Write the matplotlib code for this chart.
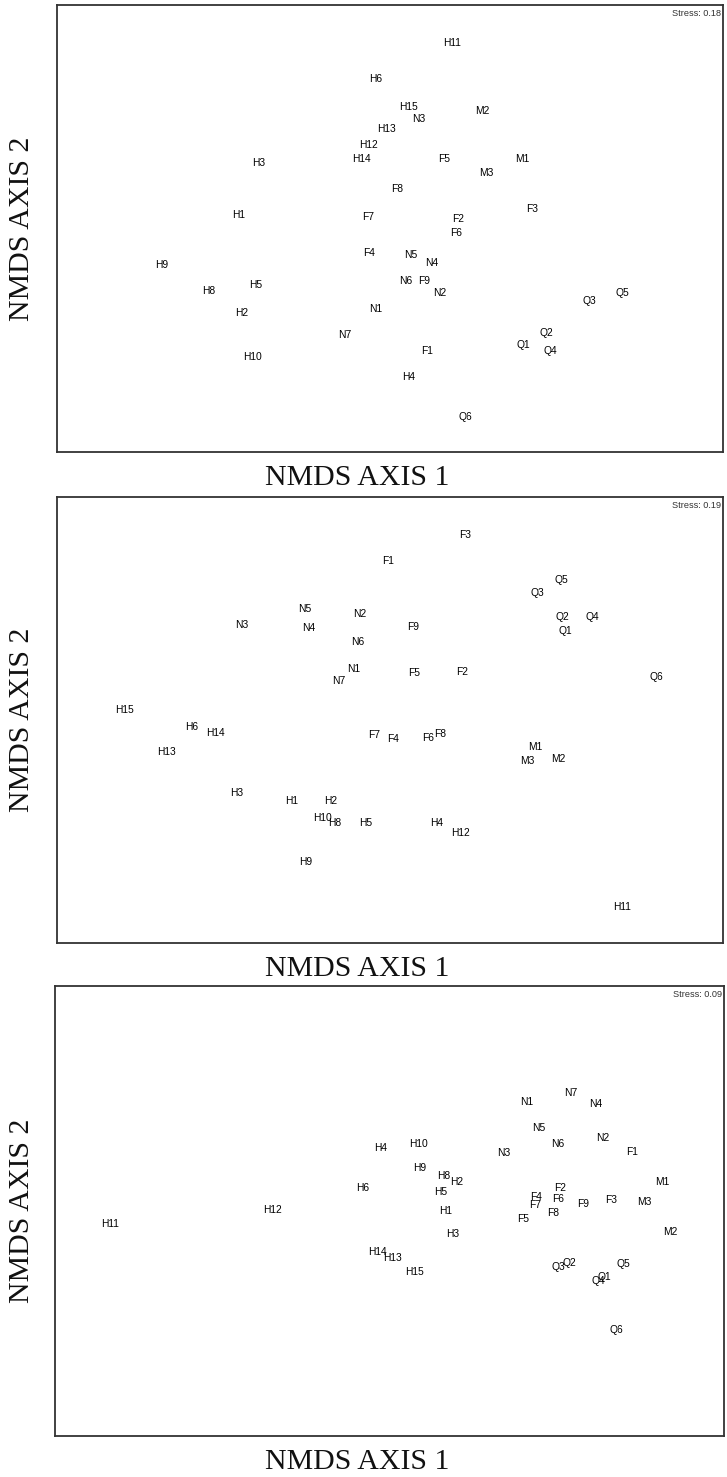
import matplotlib
matplotlib.use("Agg")
import matplotlib.pyplot as plt

# ---------------- Data (NMDS scores) ----------------
labels1 = ["H1", "H2", "H3", "H4", "H5", "H6", "H8", "H9", "H10", "H11", "H12", "H13", "H14", "H15",
           "N1", "N2", "N3", "N4", "N5", "N6", "N7",
           "F1", "F2", "F3", "F4", "F5", "F6", "F7", "F8", "F9",
           "M1", "M2", "M3",
           "Q1", "Q2", "Q3", "Q4", "Q5", "Q6"]
x1 = [-1.51, -1.48, -1.31, 0.19, -1.34, -0.14, -1.81, -2.28, -1.37, 0.62, -0.21, -0.03, -0.29, 0.19,
      -0.14, 0.50, 0.29, 0.42, 0.21, 0.16, -0.45,
      0.37, 0.68, 1.42, -0.21, 0.54, 0.66, -0.22, 0.07, 0.34,
      1.32, 0.92, 0.96,
      1.33, 1.56, 1.99, 1.60, 2.32, 0.75]
y1 = [0.13, -0.85, 0.66, -1.48, -0.57, 1.50, -0.62, -0.36, -1.29, 1.85, 0.83, 1.00, 0.70, 1.21,
      -0.81, -0.64, 1.10, -0.34, -0.27, -0.53, -1.06,
      -1.22, 0.10, 0.20, -0.24, 0.69, -0.04, 0.11, 0.40, -0.52,
      0.69, 1.18, 0.55,
      -1.16, -1.04, -0.73, -1.22, -0.64, -1.88]

labels2 = ["F1", "N5", "N2", "N3", "N4", "N6", "N1", "N7", "H15", "F3",
           "Q5", "Q3", "Q2", "Q4", "Q1", "F9", "F5", "F2", "Q6",
           "H6", "H14", "H13", "F7", "H3", "H1", "H2", "H10", "H8", "H5", "H9",
           "F4", "F6", "F8", "M1", "M3", "M2", "H4", "H12", "H11"]
x2 = [-0.02, -0.85, -0.30, -1.48, -0.81, -0.32, -0.36, -0.51, -2.65, 0.75,
      1.71, 1.47, 1.72, 2.02, 1.75, 0.23, 0.24, 0.72, 2.66,
      -1.98, -1.75, -2.23, -0.16, -1.53, -0.98, -0.59, -0.67, -0.55, -0.24, -0.84,
      0.03, 0.38, 0.50, 1.45, 1.37, 1.68, 0.47, 0.71, 2.32]
y2 = [1.59, 1.11, 1.06, 0.95, 0.92, 0.78, 0.51, 0.39, 0.10, 1.85,
      1.40, 1.27, 1.03, 1.03, 0.89, 0.93, 0.47, 0.48, 0.43,
      -0.07, -0.13, -0.32, -0.15, -0.73, -0.81, -0.81, -0.98, -1.03, -1.03, -1.42,
      -0.19, -0.18, -0.14, -0.27, -0.41, -0.39, -1.03, -1.13, -1.87]

labels3 = ["H4", "H6", "N1", "N7", "N4", "N5", "N6", "N2", "F1", "N3",
           "H10", "H9", "H8", "H2", "H5", "M1", "F2", "F4", "F6", "F9", "F3", "M3",
           "F7", "F8", "H1", "F5", "H3", "M2", "H13", "H14", "H15",
           "Q3", "Q2", "Q5", "Q1", "Q4", "Q6", "H11", "H12"]
x3 = [-0.09, -0.27, 1.37, 1.81, 2.06, 1.49, 1.68, 2.13, 2.42, 1.14,
      0.28, 0.30, 0.54, 0.67, 0.51, 2.72, 1.70, 1.46, 1.68, 1.93, 2.21, 2.54,
      1.45, 1.63, 0.56, 1.33, 0.63, 2.80, 0.03, -0.13, 0.25,
      1.68, 1.79, 2.33, 2.14, 2.08, 2.26, -2.80, -1.17]
y3 = [0.63, 0.23, 1.09, 1.18, 1.07, 0.83, 0.67, 0.73, 0.59, 0.58,
      0.67, 0.43, 0.35, 0.29, 0.19, 0.29, 0.23, 0.14, 0.12, 0.07, 0.11, 0.09,
      0.06, -0.02, 0.00, -0.08, -0.23, -0.21, -0.47, -0.41, -0.61,
      -0.56, -0.52, -0.53, -0.66, -0.70, -1.19, -0.13, 0.01]

stress = ["Stress: 0.18", "Stress: 0.19", "Stress: 0.09"]
xlabel = "NMDS AXIS 1"
ylabel = "NMDS AXIS 2"

# ---------------- Figure ----------------
W, H = 727, 1477
fig = plt.figure(figsize=(W / 100, H / 100), dpi=100)
fig.patch.set_facecolor("white")

panels = [
    (labels1, x1, y1, (57, 5, 723, 452), (-3.33, 3.33), (-2.235, 2.235)),
    (labels2, x2, y2, (57, 497, 723, 943), (-3.33, 3.33), (-2.23, 2.23)),
    (labels3, x3, y3, (55, 986, 724, 1436), (-3.35, 3.34), (-2.25, 2.25)),
]

for i, (labs, xs, ys, box, xl, yl) in enumerate(panels):
    l, t, r, b = box
    ax = fig.add_axes([l / W, 1 - b / H, (r - l) / W, (b - t) / H])
    ax.set_xlim(*xl)
    ax.set_ylim(*yl)
    ax.set_xticks([])
    ax.set_yticks([])
    for s in ax.spines.values():
        s.set_linewidth(1.3)
        s.set_color("#333333")
    for lab, xv, yv in zip(labs, xs, ys):
        ax.text(xv, yv, lab, ha="center", va="center", fontsize=7.4,
                family="Liberation Sans", color="#000000")
    ax.text(0.997, 0.992, stress[i], transform=ax.transAxes, ha="right", va="top",
            fontsize=6.6, family="Liberation Sans", color="#333333")
    # axis titles
    fig.text(357 / W, 1 - (b + 26) / H, xlabel, ha="center", va="center",
             fontsize=21.5, family="Liberation Serif", color="#111111")
    fig.text(22 / W, 1 - ((t + b) / 2) / H, ylabel, ha="center", va="center",
             rotation=90, fontsize=21.5, family="Liberation Serif", color="#111111")

fig.savefig("out.png", dpi=100, facecolor="white")
